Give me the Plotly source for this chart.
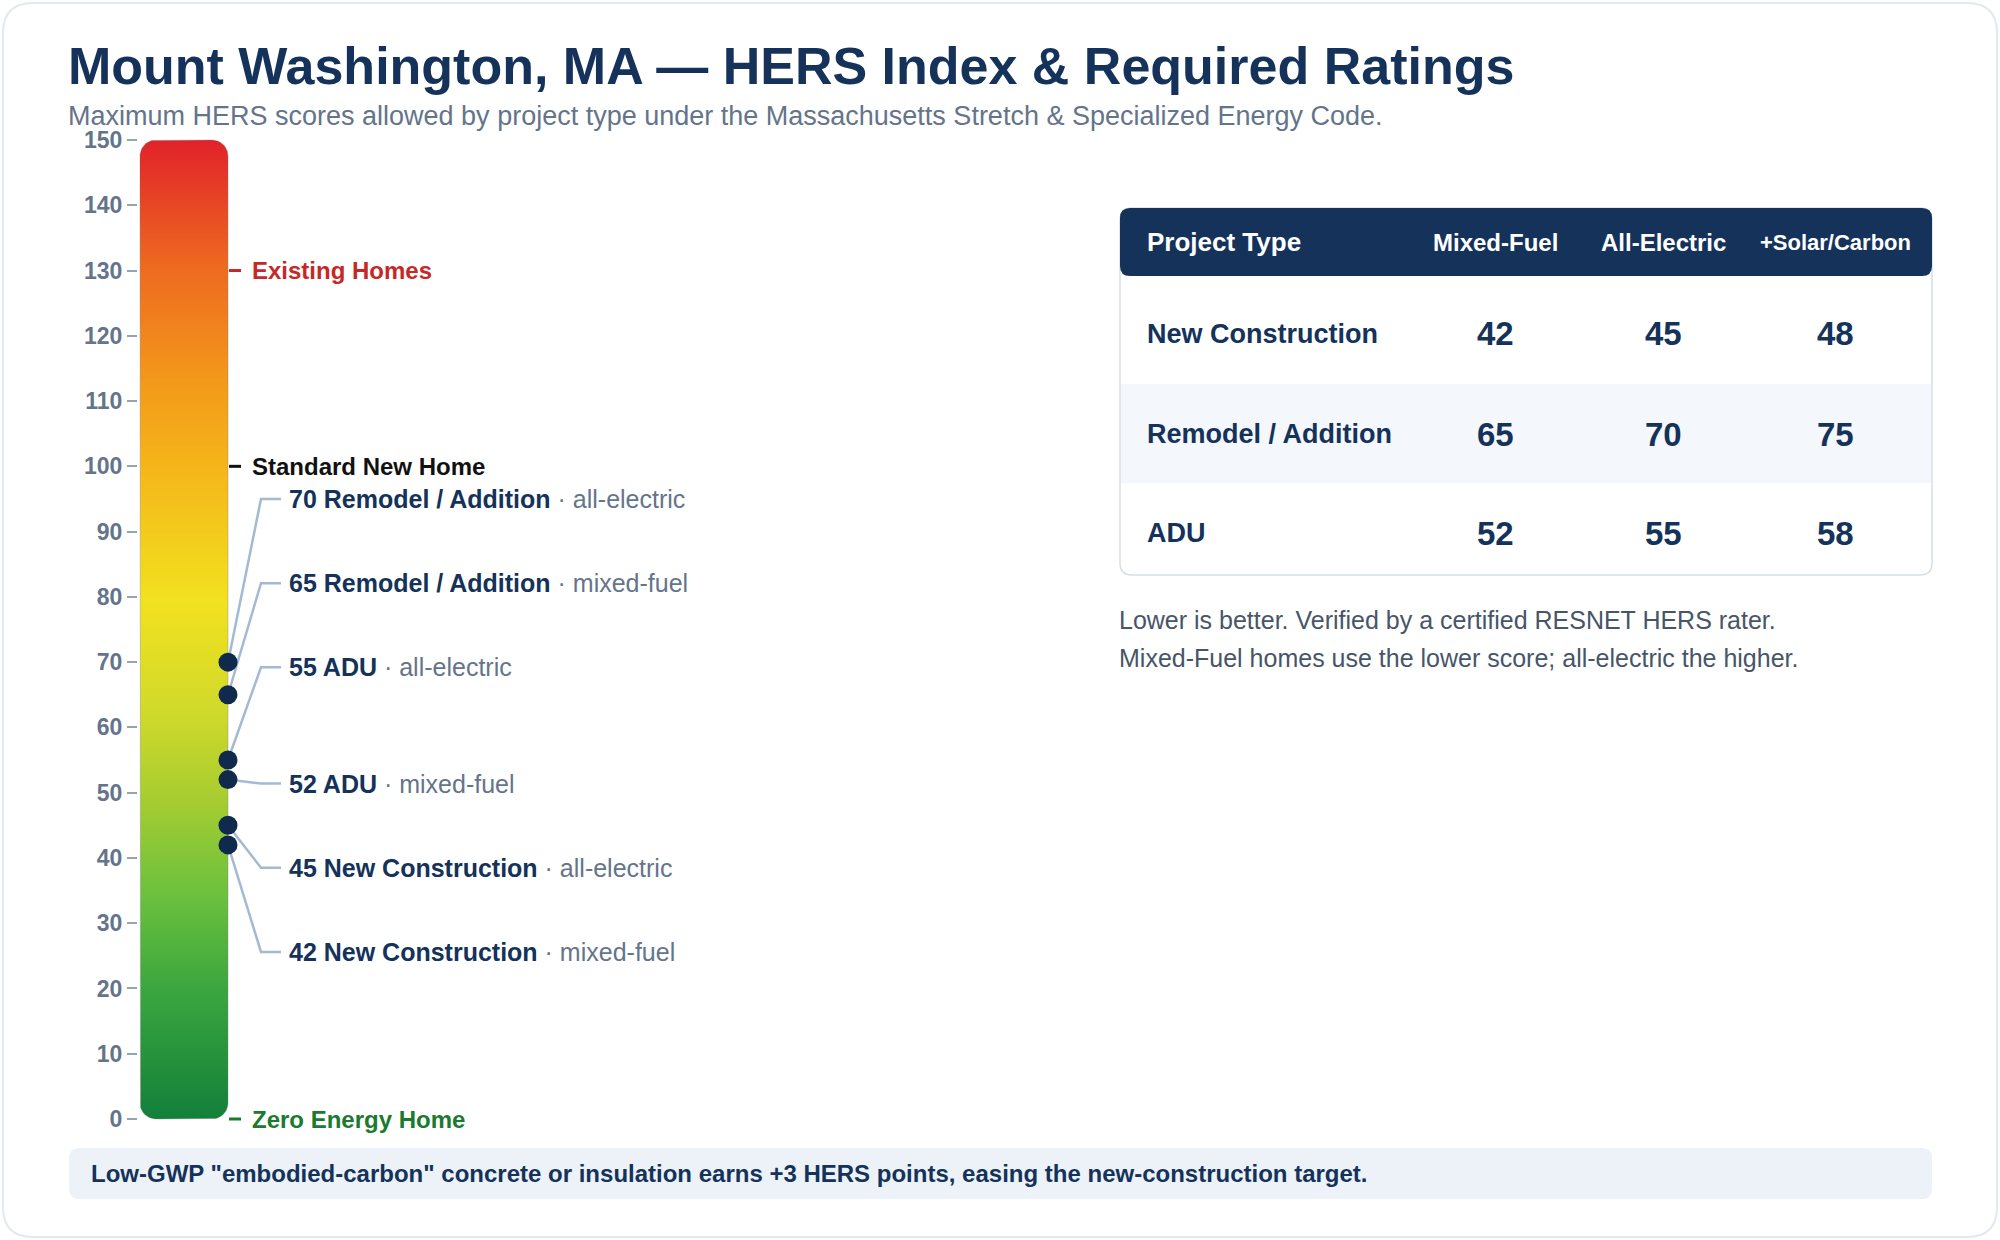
import math
import plotly.graph_objects as go

# ---- data ----
project_types = ["New Construction", "Remodel / Addition", "ADU"]
mixed_fuel = [42, 65, 52]
all_electric = [45, 70, 55]
solar_carbon = [48, 75, 58]
table_columns = ["Project Type", "Mixed-Fuel", "All-Electric", "+Solar/Carbon"]

ref_values = [130, 100, 0]
ref_labels = ["Existing Homes", "Standard New Home", "Zero Energy Home"]

hers_ticks = list(range(0, 151, 10))

title = "Mount Washington, MA — HERS Index & Required Ratings"
subtitle = ("Maximum HERS scores allowed by project type under the "
            "Massachusetts Stretch & Specialized Energy Code.")
notes = ["Lower is better. Verified by a certified RESNET HERS rater.",
         "Mixed-Fuel homes use the lower score; all-electric the higher."]
banner = ('Low-GWP "embodied-carbon" concrete or insulation earns +3 HERS points, '
          'easing the new-construction target.')

# ---- layout constants (pixels) ----
W, H = 2000, 1240
FONT = "Liberation Sans, Arial, sans-serif"
NAVY = "#14325a"
SLATE = "#64748b"
ref_colors = ["#c62828", "#111111", "#1b7a2e"]
label_y = [95.0, 82.1, 69.2, 51.4, 38.5, 25.6]  # de-collided label positions
head_sizes = [26, 24, 24, 22]

Y0_PX, Y150_PX = 1119, 140
S = (Y0_PX - Y150_PX) / 150.0
PAD = 3
BAR_X0, BAR_X1, BAR_R = 140, 228, 16


def px(x):
    return x / W


def py(y):
    return 1 - y / H


def rrect(x0, y0, x1, y1, r):
    # rounded rectangle path in paper coords, pixel inputs (y down)
    pts = [
        f"M {px(x0 + r)} {py(y0)}", f"L {px(x1 - r)} {py(y0)}",
        f"Q {px(x1)} {py(y0)} {px(x1)} {py(y0 + r)}", f"L {px(x1)} {py(y1 - r)}",
        f"Q {px(x1)} {py(y1)} {px(x1 - r)} {py(y1)}", f"L {px(x0 + r)} {py(y1)}",
        f"Q {px(x0)} {py(y1)} {px(x0)} {py(y1 - r)}", f"L {px(x0)} {py(y0 + r)}",
        f"Q {px(x0)} {py(y0)} {px(x0 + r)} {py(y0)}", "Z",
    ]
    return " ".join(pts)


# marks: each score with its project and fuel type, highest first
marks = []
for name, mf, ae in zip(project_types, mixed_fuel, all_electric):
    marks.append((ae, name, "all-electric"))
    marks.append((mf, name, "mixed-fuel"))
marks.sort(key=lambda m: -m[0])

fig = go.Figure()

# gradient bar with rounded ends (x in pixels, y in HERS units)
ry = BAR_R / S
bx, by = [], []
corners = [
    (BAR_X1 - BAR_R, 150 - ry, 0, 90),
    (BAR_X0 + BAR_R, 150 - ry, 90, 180),
    (BAR_X0 + BAR_R, 0 + ry, 180, 270),
    (BAR_X1 - BAR_R, 0 + ry, 270, 360),
]
for cx, cy, a0, a1 in corners:
    for k in range(13):
        a = math.radians(a0 + (a1 - a0) * k / 12)
        bx.append(cx + BAR_R * math.cos(a))
        by.append(cy + ry * math.sin(a))
bx.append(bx[0])
by.append(by[0])

fig.add_trace(go.Scatter(
    x=bx, y=by, mode="lines", fill="toself",
    fillgradient=dict(
        type="vertical", start=0, stop=150,
        colorscale=[
            [0.0, "#12803a"], [0.13, "#3aa53f"], [0.23, "#6cc13d"],
            [0.33, "#a9cd30"], [0.42, "#d2da2a"], [0.53, "#f2e11f"],
            [0.67, "#f5b41a"], [0.75, "#f39a1a"], [0.87, "#ee6a20"],
            [1.0, "#e1222a"],
        ],
    ),
    line=dict(color="rgba(120,120,120,0.35)", width=1),
    hoverinfo="skip",
))

# leader lines
lx, ly = [], []
for (v, _, _), yl in zip(marks, label_y):
    lx += [BAR_X1, 261, 281, None]
    ly += [v, yl, yl, None]
fig.add_trace(go.Scatter(
    x=lx, y=ly, mode="lines",
    line=dict(color="#a3b9d4", width=2.5), hoverinfo="skip",
))

# score dots
fig.add_trace(go.Scatter(
    x=[BAR_X1] * len(marks), y=[m[0] for m in marks], mode="markers",
    marker=dict(size=19, color="#0f2a4d"), cliponaxis=False,
    hovertemplate="%{y}<extra></extra>",
))

shapes = []
annotations = []

# reference ticks + labels
for v, lab, col in zip(ref_values, ref_labels, ref_colors):
    shapes.append(dict(type="line", xref="x", yref="y", x0=BAR_X1 + 1, x1=BAR_X1 + 13,
                       y0=v, y1=v, line=dict(color=col, width=3)))
    annotations.append(dict(x=250, y=v, xref="x", yref="y", text=f"<b>{lab}</b>",
                            showarrow=False, xanchor="left", yanchor="middle",
                            font=dict(family=FONT, size=24, color=col)))

# score labels
for (v, name, fuel), yl in zip(marks, label_y):
    annotations.append(dict(
        x=287, y=yl, xref="x", yref="y", showarrow=False,
        xanchor="left", yanchor="middle",
        text=f"<b>{v} {name}</b><span style='color:{SLATE}'> · {fuel}</span>",
        font=dict(family=FONT, size=25, color=NAVY),
    ))

# card
shapes.append(dict(type="path", xref="paper", yref="paper", layer="below",
                   path=rrect(3, 3, 1997, 1237, 30),
                   line=dict(color="#e2e8f0", width=2), fillcolor="white"))

# table
TX0, TX1 = 1120, 1932
HEAD_Y0, HEAD_Y1 = 208, 276
row_edges = [276, 384, 483, 575]
row_mid = [334, 434, 533]
col_x = [1145, 1495, 1663, 1835]

shapes.append(dict(type="path", xref="paper", yref="paper", layer="below",
                   path=rrect(TX0, HEAD_Y0, TX1, row_edges[-1], 12),
                   line=dict(color="#d6dee8", width=1.5), fillcolor="white"))
shapes.append(dict(type="rect", xref="paper", yref="paper", layer="below",
                   x0=px(TX0 + 1), x1=px(TX1 - 1), y0=py(row_edges[1]), y1=py(row_edges[2]),
                   line=dict(width=0), fillcolor="#f4f7fb"))
shapes.append(dict(type="path", xref="paper", yref="paper", layer="below",
                   path=rrect(TX0, HEAD_Y0, TX1, HEAD_Y1, 10),
                   line=dict(width=0), fillcolor=NAVY))

head_y = (HEAD_Y0 + HEAD_Y1) / 2
for i, (col, cx) in enumerate(zip(table_columns, col_x)):
    annotations.append(dict(
        x=px(cx), y=py(head_y), xref="paper", yref="paper", showarrow=False,
        xanchor="left" if i == 0 else "center", yanchor="middle",
        text=f"<b>{col}</b>",
        font=dict(family=FONT, size=head_sizes[i], color="white"),
    ))

for r, name in enumerate(project_types):
    cy = row_mid[r]
    annotations.append(dict(
        x=px(col_x[0]), y=py(cy), xref="paper", yref="paper", showarrow=False,
        xanchor="left", yanchor="middle", text=f"<b>{name}</b>",
        font=dict(family=FONT, size=27, color=NAVY),
    ))
    for cx, series in zip(col_x[1:], [mixed_fuel, all_electric, solar_carbon]):
        annotations.append(dict(
            x=px(cx), y=py(cy), xref="paper", yref="paper", showarrow=False,
            xanchor="center", yanchor="middle", text=f"<b>{series[r]}</b>",
            font=dict(family=FONT, size=33, color=NAVY),
        ))

for i, line in enumerate(notes):
    annotations.append(dict(
        x=px(TX0 - 3), y=py(620 + 38 * i), xref="paper", yref="paper", showarrow=False,
        xanchor="left", yanchor="middle", text=line,
        font=dict(family=FONT, size=25, color="#475569"),
    ))

# title + subtitle
annotations.append(dict(x=px(66), y=py(66), xref="paper", yref="paper", showarrow=False,
                        xanchor="left", yanchor="middle", text=f"<b>{title}</b>",
                        font=dict(family=FONT, size=52, color=NAVY)))
annotations.append(dict(x=px(66), y=py(116), xref="paper", yref="paper", showarrow=False,
                        xanchor="left", yanchor="middle", text=subtitle,
                        font=dict(family=FONT, size=27, color=SLATE)))

# footer banner
shapes.append(dict(type="path", xref="paper", yref="paper", layer="below",
                   path=rrect(69, 1148, 1932, 1199, 10),
                   line=dict(width=0), fillcolor="#edf2f9"))
annotations.append(dict(x=px(89), y=py(1173.5), xref="paper", yref="paper", showarrow=False,
                        xanchor="left", yanchor="middle", text=f"<b>{banner}</b>",
                        font=dict(family=FONT, size=24, color=NAVY)))

fig.update_layout(
    width=W, height=H,
    margin=dict(l=0, r=0, t=0, b=0),
    paper_bgcolor="white", plot_bgcolor="rgba(0,0,0,0)",
    showlegend=False,
    font=dict(family=FONT),
    xaxis=dict(range=[0, W], domain=[0, 1], visible=False, fixedrange=True),
    yaxis=dict(
        range=[-PAD, 150 + PAD],
        domain=[1 - (Y0_PX + PAD * S) / H, 1 - (Y150_PX - PAD * S) / H],
        anchor="free", position=137 / W,
        tickvals=hers_ticks, ticks="outside", ticklen=10, tickwidth=1.5,
        tickcolor="#94a3b8", showgrid=False, zeroline=False, showline=False,
        tickfont=dict(family=FONT, size=23, color=SLATE, weight="bold"),
        fixedrange=True,
    ),
    shapes=shapes,
    annotations=annotations,
)

fig.write_html("out.html", config={"displayModeBar": False},
               post_script="document.body.style.margin='0';")
